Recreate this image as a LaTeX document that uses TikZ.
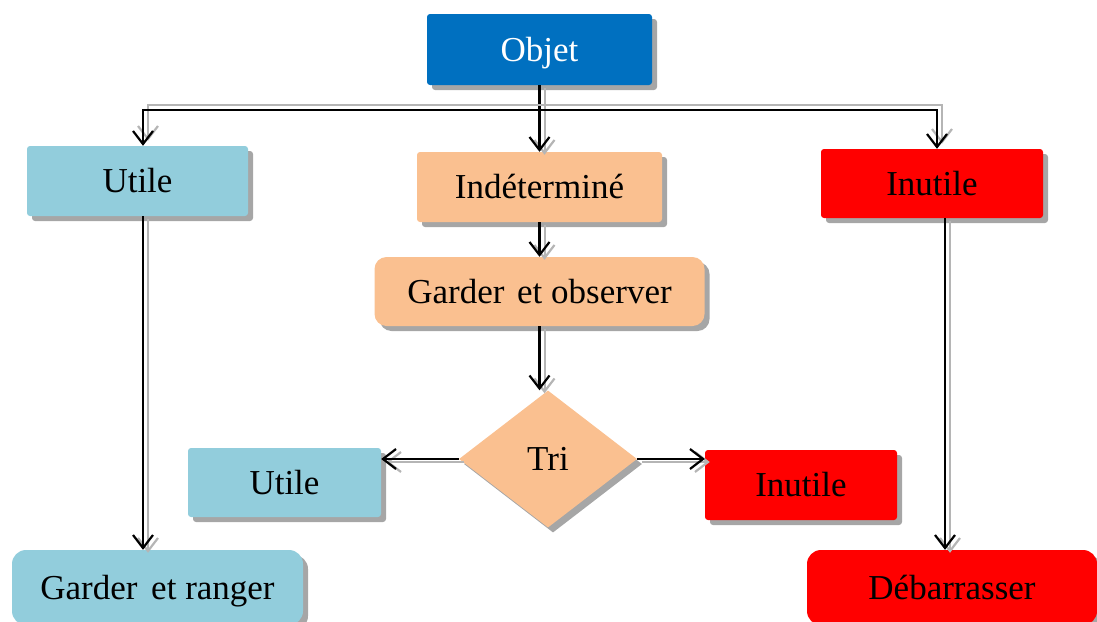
\documentclass[tikz,border=0pt]{standalone}
\usepackage{fontspec}
\setmainfont{Liberation Serif}
\usetikzlibrary{arrows.meta,shapes.geometric,shadows}

\definecolor{objblue}{RGB}{0,112,192}
\definecolor{utblue}{RGB}{146,205,220}
\definecolor{peach}{RGB}{250,192,144}
\definecolor{shadowgray}{RGB}{150,150,150}

\tikzset{
  box/.style={draw=none, fill=#1, rounded corners=3pt, inner sep=0pt,
    font=\fontsize{35}{42}\selectfont, text height=23pt, text depth=0pt,
    drop shadow={shadow xshift=5pt, shadow yshift=-5pt, fill=shadowgray, opacity=0.85}},
  conntip/.style={-{Straight Barb[length=13pt,width=20pt,line width=2.2pt]}},
  conn/.style={draw=black, line width=2.2pt, conntip,
    preaction={draw=shadowgray!70, line width=2pt, conntip,
      transform canvas={xshift=5pt,yshift=-3pt}}},
  barconn/.style={draw=black, line width=2.2pt, conntip,
    preaction={draw=shadowgray!70, line width=2pt, conntip,
      transform canvas={xshift=5pt,yshift=5pt}}},
}

\begin{document}
\begin{tikzpicture}[x=1pt,y=-1pt]
\useasboundingbox (0,0) rectangle (1097,621);

% boxes
\node[box=objblue, text=white, minimum width=225pt, minimum height=71pt] (objet) at (539.5,49.5) {Objet};
\node[box=utblue, minimum width=221pt, minimum height=70pt] (u1) at (137.5,181) {Utile};
\node[box=peach, minimum width=245pt, minimum height=70pt] (ind) at (539.5,187) {Indéterminé};
\node[box=red, minimum width=222pt, minimum height=69pt] (in1) at (932,183.5) {Inutile};
\node[box=peach, rounded corners=12pt, minimum width=330pt, minimum height=69pt] (gobs) at (539.5,291.5) {Garder\hspace{4pt} et observer};
\node[box=peach, diamond, rounded corners=0pt, minimum width=178pt, minimum height=137pt] (tri) at (548,459) {Tri};
\node[box=utblue, minimum width=193pt, minimum height=69pt] (u2) at (284.5,482.5) {Utile};
\node[box=red, minimum width=192pt, minimum height=70pt] (in2) at (801,485) {Inutile};
\node[box=utblue, rounded corners=14pt, minimum width=291pt, minimum height=75pt] (gr) at (157.5,587.5) {Garder\hspace{5pt} et ranger};
\node[box=red, rounded corners=14pt, minimum width=290pt, minimum height=75pt] (deb) at (952,587.5) {Débarrasser};

% connectors
\coordinate (barL) at (143,110);
\coordinate (barR) at (937,110);
\coordinate (colR) at (945,0);

\draw[conn] (objet.south) -- (ind.north);
\draw[barconn] (objet.south |- barL) -- (barL) -- (barL |- u1.north);
\draw[barconn] (objet.south |- barR) -- (barR) -- (barR |- in1.north);
\draw[conn] (ind.south) -- (gobs.north);
\draw[conn] (gobs.south) -- (gobs.south |- tri.north);
\draw[conn] (tri.west) -- (tri.west -| u2.east);
\draw[conn] (tri.east) -- (tri.east -| in2.west);
\draw[conn] (barL |- u1.south) -- (barL |- gr.north);
\draw[conn] (colR |- in1.south) -- (colR |- deb.north);
\end{tikzpicture}
\end{document}
